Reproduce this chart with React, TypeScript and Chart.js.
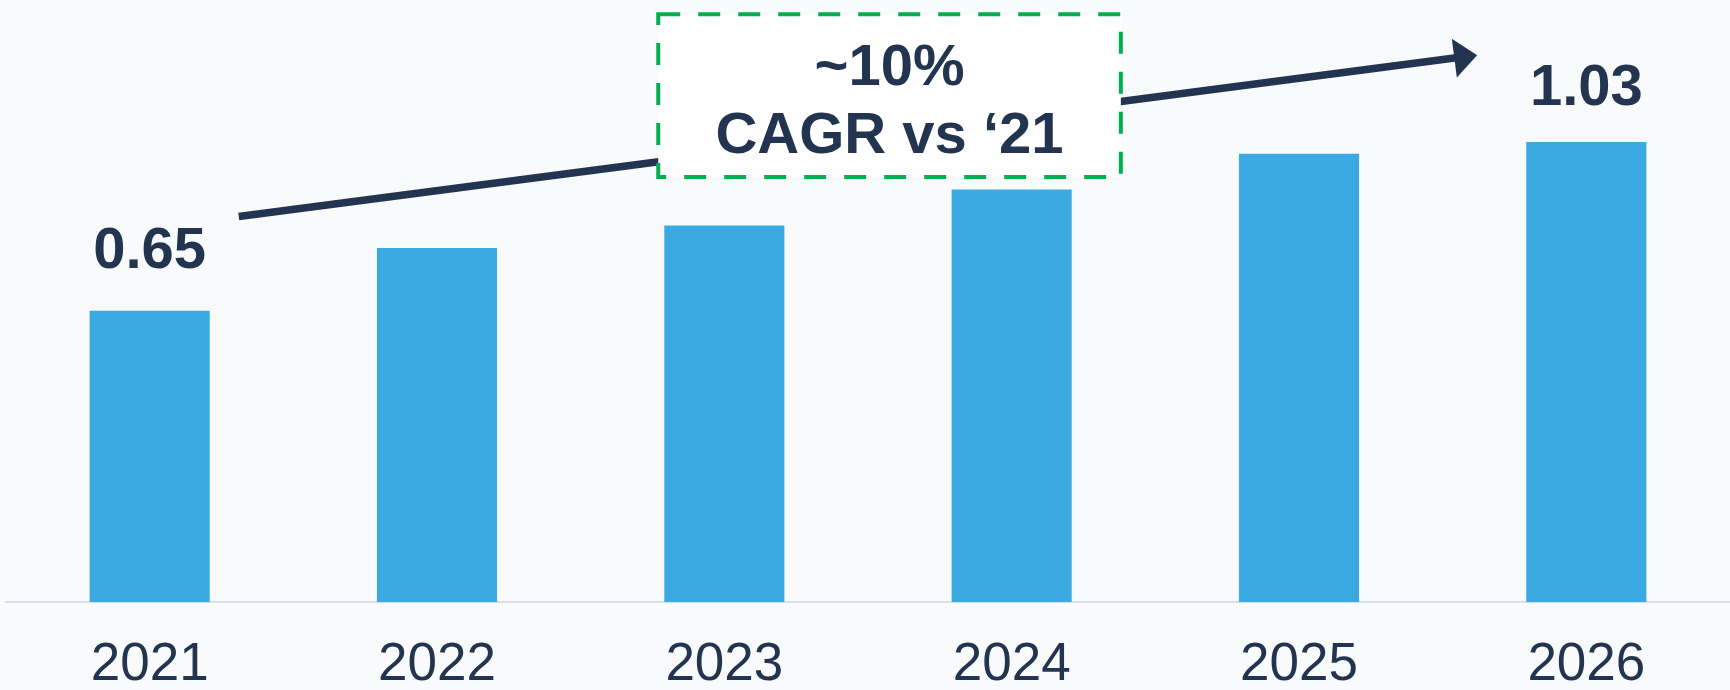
import React, { useEffect, useRef } from "react";
import { Chart, registerables } from "chart.js";

Chart.register(...registerables);

// ---- data ----
const categories = ["2021", "2022", "2023", "2024", "2025", "2026"];
const values = [0.65, 0.79, 0.84, 0.92, 1.0, 1.026];
const labeledIndices = [0, 5];
const labelOffsets = [43, 37];
const cagrLines = ["~10%", "CAGR vs \u201821"];
// annotation anchors in data units: [category index, value]
const arrowStart = [0.31, 0.86];
const arrowEnd = [4.62, 1.22];
const boxTopLeft = [1.77, 1.311];
const boxBottomRight = [3.38, 0.948];

// ---- styles ----
const BG = "#f8fafc";
const BAR = "#3caae2";
const NAVY = "#22344f";
const GREEN = "#00b050";
const AXIS = "#d5dfee";
const FONT = "'Liberation Sans', Arial, Helvetica, sans-serif";

const annotationPlugin = {
  id: "cagrAnnotation",
  afterDatasetsDraw(chart: any) {
    const { ctx, scales } = chart;
    const x = scales.x;
    const y = scales.y;
    ctx.save();

    // arrow
    const x1 = x.getPixelForValue(arrowStart[0]);
    const y1 = y.getPixelForValue(arrowStart[1]);
    const x2 = x.getPixelForValue(arrowEnd[0]);
    const y2 = y.getPixelForValue(arrowEnd[1]);
    const ang = Math.atan2(y2 - y1, x2 - x1);
    const c = Math.cos(ang);
    const s = Math.sin(ang);
    const headLen = 23;
    const headHalf = 19.5;
    const bx = x2 - headLen * c;
    const by = y2 - headLen * s;
    ctx.strokeStyle = NAVY;
    ctx.lineWidth = 7.5;
    ctx.lineCap = "butt";
    ctx.beginPath();
    ctx.moveTo(x1, y1);
    ctx.lineTo(bx + 4 * c, by + 4 * s);
    ctx.stroke();
    ctx.fillStyle = NAVY;
    ctx.beginPath();
    ctx.moveTo(x2, y2);
    ctx.lineTo(bx - headHalf * s, by + headHalf * c);
    ctx.lineTo(bx + headHalf * s, by - headHalf * c);
    ctx.closePath();
    ctx.fill();

    // box
    const l = x.getPixelForValue(boxTopLeft[0]);
    const t = y.getPixelForValue(boxTopLeft[1]);
    const r = x.getPixelForValue(boxBottomRight[0]);
    const b = y.getPixelForValue(boxBottomRight[1]);
    ctx.fillStyle = "#ffffff";
    ctx.fillRect(l, t, r - l, b - t);
    ctx.setLineDash([22, 18]);
    ctx.strokeStyle = GREEN;
    ctx.lineWidth = 4;
    ctx.strokeRect(l, t, r - l, b - t);
    ctx.setLineDash([]);

    ctx.fillStyle = NAVY;
    ctx.font = `bold 58px ${FONT}`;
    ctx.textAlign = "center";
    ctx.textBaseline = "alphabetic";
    const cx = (l + r) / 2;
    ctx.fillText(cagrLines[0], cx, t + 71);
    ctx.fillText(cagrLines[1], cx, t + 139);

    // value labels
    labeledIndices.forEach((idx, k) => {
      const px = x.getPixelForValue(idx);
      const py = y.getPixelForValue(values[idx]);
      ctx.fillText(values[idx].toFixed(2), px, py - labelOffsets[k]);
    });

    ctx.restore();
  },
};

export default function App() {
  const ref = useRef<HTMLCanvasElement | null>(null);

  useEffect(() => {
    document.body.style.margin = "0";
    document.body.style.background = BG;
    if (!ref.current) return;
    const chart = new Chart(ref.current, {
      type: "bar",
      data: {
        labels: categories,
        datasets: [
          {
            data: values,
            backgroundColor: BAR,
            borderWidth: 0,
            categoryPercentage: 1,
            barPercentage: 0.418,
          },
        ],
      },
      options: {
        animation: false,
        responsive: false,
        maintainAspectRatio: false,
        layout: { padding: { left: 6, right: -4, top: 0, bottom: 0 } },
        plugins: {
          legend: { display: false },
          tooltip: { enabled: false },
        },
        scales: {
          x: {
            grid: { display: false, drawTicks: false },
            border: { display: true, color: AXIS, width: 2 },
            ticks: {
              color: NAVY,
              font: { family: FONT, size: 53, lineHeight: 1.2 },
              padding: 32,
              maxRotation: 0,
              autoSkip: false,
            },
            afterFit: (scale: any) => {
              scale.height = 88;
            },
          },
          y: {
            display: false,
            min: 0,
            max: 1.343,
          },
        },
      },
      plugins: [annotationPlugin],
    });
    return () => chart.destroy();
  }, []);

  return (
    <div
      style={{
        position: "absolute",
        left: 0,
        top: 0,
        width: 1730,
        height: 690,
        background: BG,
        overflow: "hidden",
      }}
    >
      <canvas ref={ref} width={1730} height={690} style={{ display: "block" }} />
    </div>
  );
}
